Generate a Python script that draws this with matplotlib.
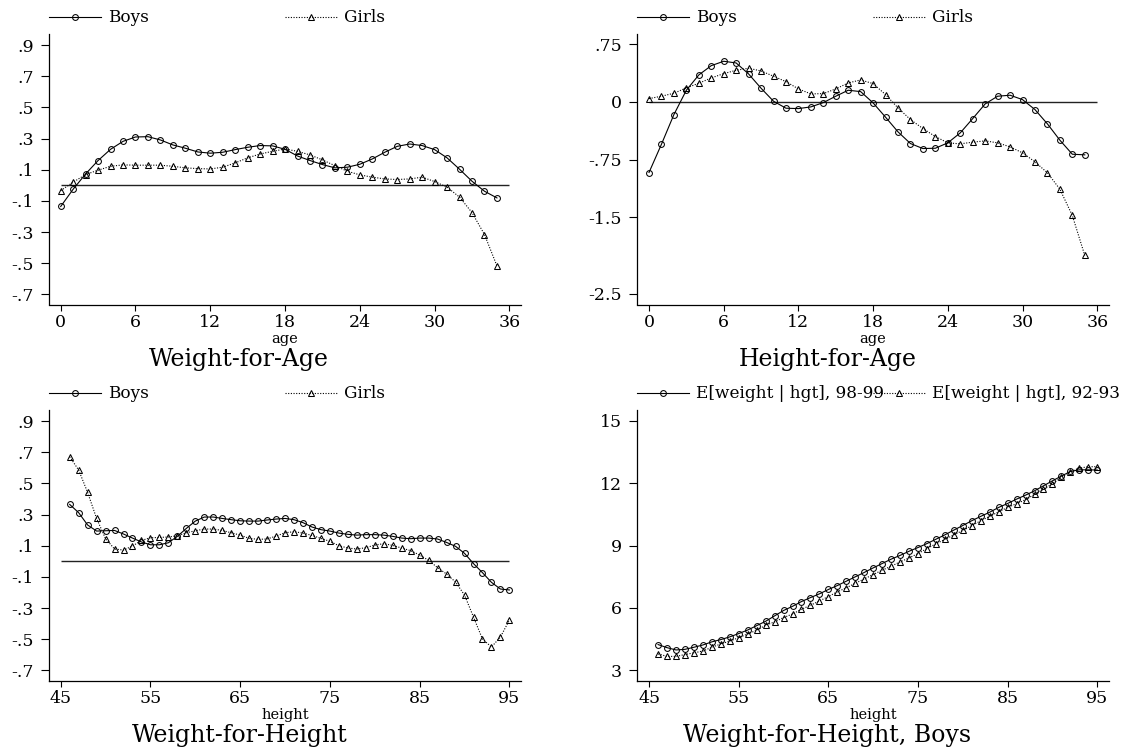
import numpy as np
import matplotlib
matplotlib.use("Agg")
import matplotlib.pyplot as plt
from matplotlib.lines import Line2D

plt.rcParams["font.family"] = ["DejaVu Serif"]

# ---- data -------------------------------------------------------------
age = np.arange(0, 36)
height = np.arange(46, 96)

wfa_boys = [-0.136, -0.025, 0.073, 0.159, 0.231, 0.282, 0.310, 0.312, 0.291, 0.259,
            0.238, 0.214, 0.206, 0.212, 0.229, 0.244, 0.255, 0.253, 0.231, 0.188,
            0.159, 0.133, 0.112, 0.116, 0.135, 0.169, 0.212, 0.250, 0.265, 0.255,
            0.229, 0.176, 0.103, 0.026, -0.038, -0.081]
wfa_girls = [-0.034, 0.020, 0.069, 0.097, 0.122, 0.131, 0.129, 0.129, 0.129, 0.122,
             0.112, 0.107, 0.105, 0.116, 0.144, 0.176, 0.201, 0.218, 0.233, 0.218,
             0.195, 0.163, 0.126, 0.090, 0.067, 0.052, 0.041, 0.037, 0.041, 0.052,
             0.024, -0.012, -0.076, -0.175, -0.316, -0.517]

hfa_boys = [-0.919, -0.551, -0.165, 0.152, 0.351, 0.472, 0.529, 0.507, 0.364, 0.178,
            0.009, -0.082, -0.087, -0.065, -0.009, 0.074, 0.152, 0.134, -0.013, -0.199,
            -0.390, -0.542, -0.607, -0.603, -0.533, -0.403, -0.217, -0.026, 0.074, 0.087,
            0.030, -0.100, -0.286, -0.498, -0.681, -0.689]
hfa_girls = [0.043, 0.074, 0.113, 0.182, 0.243, 0.312, 0.368, 0.412, 0.438, 0.403,
             0.334, 0.264, 0.169, 0.104, 0.108, 0.169, 0.247, 0.286, 0.238, 0.095,
             -0.078, -0.230, -0.347, -0.451, -0.533, -0.546, -0.524, -0.507, -0.533, -0.585,
             -0.663, -0.780, -0.923, -1.136, -1.478, -1.998]

wfh_boys = [0.365, 0.312, 0.233, 0.194, 0.196, 0.198, 0.175, 0.149, 0.124, 0.106,
            0.106, 0.119, 0.160, 0.211, 0.258, 0.284, 0.284, 0.275, 0.267, 0.260,
            0.258, 0.258, 0.265, 0.271, 0.275, 0.267, 0.248, 0.220, 0.203, 0.194,
            0.181, 0.173, 0.168, 0.171, 0.171, 0.168, 0.160, 0.149, 0.145, 0.149,
            0.149, 0.143, 0.121, 0.096, 0.051, -0.015, -0.073, -0.135, -0.178, -0.184]
wfh_girls = [0.671, 0.586, 0.442, 0.275, 0.145, 0.079, 0.072, 0.098, 0.134, 0.151,
             0.153, 0.156, 0.164, 0.183, 0.196, 0.207, 0.207, 0.198, 0.183, 0.168,
             0.147, 0.141, 0.143, 0.162, 0.183, 0.190, 0.181, 0.166, 0.147, 0.128,
             0.100, 0.085, 0.079, 0.087, 0.104, 0.113, 0.102, 0.085, 0.068, 0.040,
             0.006, -0.041, -0.082, -0.133, -0.217, -0.358, -0.499, -0.550, -0.486, -0.377]

ew_9899 = [4.24, 4.09, 3.98, 4.01, 4.11, 4.22, 4.37, 4.48, 4.61, 4.77,
           4.94, 5.15, 5.36, 5.62, 5.88, 6.08, 6.31, 6.50, 6.68, 6.89,
           7.08, 7.29, 7.50, 7.71, 7.93, 8.14, 8.35, 8.53, 8.73, 8.91,
           9.10, 9.31, 9.52, 9.75, 9.97, 10.20, 10.41, 10.61, 10.84, 11.03,
           11.24, 11.43, 11.64, 11.88, 12.12, 12.35, 12.57, 12.65, 12.65, 12.64]
ew_9293 = [3.79, 3.67, 3.67, 3.76, 3.84, 3.93, 4.11, 4.27, 4.41, 4.57,
           4.75, 4.93, 5.17, 5.33, 5.54, 5.71, 5.94, 6.13, 6.34, 6.55,
           6.78, 6.97, 7.19, 7.40, 7.61, 7.82, 8.01, 8.22, 8.41, 8.62,
           8.86, 9.09, 9.30, 9.52, 9.73, 9.96, 10.20, 10.41, 10.63, 10.84,
           11.02, 11.21, 11.47, 11.72, 11.98, 12.29, 12.56, 12.73, 12.80, 12.80]

age_ticks = [0, 6, 12, 18, 24, 30, 36]
height_ticks = [45, 55, 65, 75, 85, 95]
z_ticks = [0.9, 0.7, 0.5, 0.3, 0.1, -0.1, -0.3, -0.5, -0.7]
z_labels = [".9", ".7", ".5", ".3", ".1", "-.1", "-.3", "-.5", "-.7"]
hfa_ticks = [0.75, 0, -0.75, -1.5, -2.5]
hfa_labels = [".75", "0", "-.75", "-1.5", "-2.5"]
kg_ticks = [3, 6, 9, 12, 15]

# ---- styling ----------------------------------------------------------
LW = 0.8
solid = dict(color="black", lw=LW, ls="-", marker="o", ms=4.2,
             mfc="none", mec="black", mew=0.75)
dotted = dict(color="black", lw=LW, ls=(0, (1, 1.4)), marker="^", ms=4.6,
              mfc="none", mec="black", mew=0.75)

fig = plt.figure(figsize=(11.29, 7.52), dpi=100)

W, H = 1129.0, 752.0
ax_w = 471.5
ax_h = 270.2
lefts = [49.3, 637.3]
bottoms = [304.5, 680.5]


def make_axes(col, row):
    return fig.add_axes([lefts[col] / W, 1 - bottoms[row] / H, ax_w / W, ax_h / H])


def style(ax, xticks, xlim, yticks, ylabels, ylim, xlabel, title):
    for s in ("top", "right"):
        ax.spines[s].set_visible(False)
    for s in ("left", "bottom"):
        ax.spines[s].set_linewidth(0.9)
    ax.set_xticks(xticks)
    ax.set_xlim(*xlim)
    ax.set_yticks(yticks)
    ax.set_yticklabels(ylabels)
    ax.set_ylim(*ylim)
    ax.tick_params(axis="y", direction="out", length=6, width=0.8,
                   labelsize=12.5, pad=5)
    ax.tick_params(axis="x", direction="out", length=4, width=0.8,
                   labelsize=12.5, pad=3)
    ax.set_xlabel(xlabel, fontsize=10.5)
    ax.xaxis.label.set_va("baseline")
    ax.xaxis.set_label_coords(0.5, -(342.7 - 304.5) / ax_h)
    ax.text(0.403, -(366.0 - 304.5) / ax_h, title, transform=ax.transAxes,
            ha="center", va="baseline", fontsize=17)


def legend(ax, labels):
    y_line = (304.5 - 16.7) / ax_h
    y_text = (304.5 - 21.7) / ax_h
    key_len = 52.0 / ax_w
    gap = 59.0 / ax_w
    for x0, lab, st in zip((0.0, 0.5), labels, (solid, dotted)):
        ax.add_line(Line2D([x0, x0 + key_len], [y_line, y_line],
                           transform=ax.transAxes, clip_on=False,
                           color="black", lw=LW, ls=st["ls"]))
        ax.add_line(Line2D([x0 + key_len / 2], [y_line], transform=ax.transAxes,
                           clip_on=False, ls="none", marker=st["marker"],
                           ms=st["ms"], mfc="none", mec="black", mew=0.75))
        ax.text(x0 + gap, y_text, lab, transform=ax.transAxes,
                ha="left", va="baseline", fontsize=12.2)


# Weight-for-Age
ax1 = make_axes(0, 0)
ax1.hlines(0, age_ticks[0], age_ticks[-1], color="#222222", lw=1.0)
ax1.plot(age, wfa_boys, **solid)
ax1.plot(age, wfa_girls, **dotted)
style(ax1, age_ticks, (-0.915, 36.915), z_ticks, z_labels, (-0.765, 0.969),
      "age", "Weight-for-Age")
legend(ax1, ["Boys", "Girls"])

# Height-for-Age
ax2 = make_axes(1, 0)
ax2.hlines(0, age_ticks[0], age_ticks[-1], color="#222222", lw=1.0)
ax2.plot(age, hfa_boys, **solid)
ax2.plot(age, hfa_girls, **dotted)
style(ax2, age_ticks, (-0.94, 36.93), hfa_ticks, hfa_labels, (-2.637, 0.880),
      "age", "Height-for-Age")
legend(ax2, ["Boys", "Girls"])

# Weight-for-Height
ax3 = make_axes(0, 1)
ax3.hlines(0, height_ticks[0], height_ticks[-1], color="#222222", lw=1.0)
ax3.plot(height, wfh_boys, **solid)
ax3.plot(height, wfh_girls, **dotted)
style(ax3, height_ticks, (43.73, 96.27), z_ticks, z_labels, (-0.765, 0.969),
      "height", "Weight-for-Height")
legend(ax3, ["Boys", "Girls"])

# Weight-for-Height, Boys: two survey rounds
ax4 = make_axes(1, 1)
ax4.plot(height, ew_9899, **solid)
ax4.plot(height, ew_9293, **dotted)
style(ax4, height_ticks, (43.68, 96.29), kg_ticks, [str(t) for t in kg_ticks],
      (2.51, 15.515), "height", "Weight-for-Height, Boys")
legend(ax4, ["E[weight | hgt], 98-99", "E[weight | hgt], 92-93"])

fig.savefig("out.png", dpi=100, facecolor="white")
